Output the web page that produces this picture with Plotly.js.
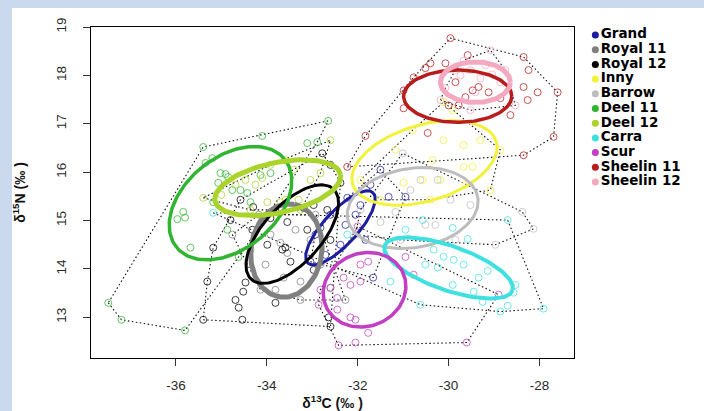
<!DOCTYPE html>
<html><head><meta charset="utf-8">
<script src="https://cdn.plot.ly/plotly-3.0.1.min.js"></script>
<style>html,body{margin:0;padding:0;background:#cad9ee;} #chart{width:704px;height:411px;}</style>
</head><body><div id="chart"></div>
<script>
// ---- data ----
const groups = ["Grand","Royal 11","Royal 12","Inny","Barrow","Deel 11","Deel 12","Carra","Scur","Sheelin 11","Sheelin 12"];

const grandX = [-32.93,-32.60,-32.27,-31.94,-32.38,-32.23,-30.95,-31.50,-31.32,-32.71,-32.05,-31.72,-33.04,-31.83,-31.66,-32.82];
const grandY = [14.71,15.12,14.91,15.32,14.50,15.47,15.49,16.05,15.49,14.29,15.12,15.74,14.15,14.60,13.82,14.85];

const royal11X = [-34.18,-33.92,-33.70,-33.55,-33.26,-33.63,-34.03,-33.37,-33.04,-34.14,-33.81,-33.26,-32.82,-34.36,-32.93,-32.60,-32.27,-34.76];
const royal11Y = [15.12,14.71,14.54,14.33,13.74,13.82,14.09,14.81,14.60,13.57,13.57,13.36,14.09,14.40,15.12,13.61,13.36,14.71];

const royal12X = [-35.18,-35.31,-34.47,-34.52,-34.69,-34.62,-35.40,-34.54,-33.81,-32.60,-32.64,-33.66,-33.48,-32.78,-32.60,-32.38,-34.58,-34.30,-34.80,-34.32,-33.92,-33.55,-33.19,-32.97,-33.99,-33.59,-33.11,-32.67,-32.60,-32.97];
const royal12Y = [14.44,13.74,13.72,13.53,13.36,13.20,12.95,12.95,13.30,12.81,13.00,14.40,14.15,16.39,16.15,15.78,15.43,15.28,15.01,14.81,15.05,14.97,15.26,15.32,14.50,14.44,14.81,15.22,14.60,13.98];

const innyX = [-30.11,-29.91,-29.67,-30.11,-30.57,-30.18,-30.40,-29.67,-29.47,-30.99,-31.50,-31.94,-31.17,-29.30,-28.86,-30.79,-29.63,-29.08,-30.35];
const innyY = [17.45,17.28,16.56,16.66,15.84,15.84,15.43,16.11,16.11,15.78,15.43,15.84,16.46,16.66,16.46,16.87,15.74,15.63,16.25];

const barrowX = [-31.01,-30.62,-30.24,-31.94,-31.50,-30.51,-30.29,-31.06,-29.96,-29.52,-31.17,-30.84,-29.85,-28.97,-28.38,-28.13,-32.05];
const barrowY = [16.39,15.84,15.84,15.22,14.97,14.91,14.91,14.60,15.43,15.32,15.18,15.63,14.60,14.50,15.18,14.83,14.71];

const deel11X = [-37.49,-37.20,-35.80,-35.40,-34.10,-32.65,-35.20,-35.35,-35.02,-34.91,-34.85,-35.07,-35.18,-35.84,-35.97,-35.80,-34.76,-34.58,-34.43,-34.36,-34.62,-35.68,-34.87,-33.11,-32.89,-33.92,-34.14];
const deel11Y = [13.30,12.95,12.73,16.52,16.75,17.06,16.29,16.19,15.98,15.96,15.90,15.78,15.38,15.18,15.03,15.06,15.63,15.63,15.57,15.38,14.25,14.44,14.81,16.60,16.62,15.98,15.94];

const deel12X = [-32.82,-33.59,-33.70,-33.30,-33.99,-35.40,-34.69,-34.47,-34.25,-34.10,-33.92,-33.41,-33.04,-35.00,-34.36,-33.26,-33.59,-32.60];
const deel12Y = [15.98,15.43,15.38,15.43,15.38,15.47,15.74,15.84,15.74,15.88,16.15,16.05,15.84,15.53,15.22,15.22,16.25,16.66];

const carraX = [-30.95,-29.91,-29.58,-28.70,-30.33,-30.11,-29.89,-29.67,-30.51,-30.24,-29.34,-29.14,-29.91,-29.45,-28.53,-28.57,-30.62,-28.86,-28.70,-27.91,-29.25,-32.23,-31.28,-30.57,-35.18];
const carraY = [14.81,14.85,14.62,15.01,14.40,14.25,14.19,14.09,14.09,14.03,13.82,13.96,13.67,13.53,13.67,13.51,13.26,13.12,13.24,13.18,13.32,14.71,13.74,15.01,15.16];

const scurX = [-31.94,-31.77,-31.94,-32.16,-32.31,-32.45,-32.60,-32.45,-32.16,-32.05,-31.77,-32.42,-32.05,-29.60,-32.86,-32.82,-30.95,-30.77,-28.90,-32.00];
const scurY = [14.09,14.15,13.74,13.67,13.82,13.40,13.61,13.16,13.00,12.95,12.68,12.42,12.48,12.48,13.26,13.57,14.25,13.88,13.47,14.88];

const sheelin11X = [-29.96,-29.58,-28.35,-28.24,-27.60,-28.04,-28.35,-28.26,-27.69,-28.35,-30.51,-30.40,-30.07,-30.99,-30.77,-29.85,-29.47,-29.34,-29.12,-29.63,-29.78,-30.00,-28.86,-28.64,-30.99,-30.46,-31.83,-32.23];
const sheelin11Y = [18.77,18.42,18.38,18.11,17.65,17.65,17.76,17.49,16.73,16.35,18.15,18.25,18.25,17.69,17.96,17.86,17.69,17.76,17.65,17.55,17.38,17.38,17.53,17.18,17.32,16.81,16.75,16.11];

const sheelin12X = [-29.74,-29.52,-29.30,-29.04,-29.41,-28.86,-29.19,-29.67,-30.07,-29.85,-28.75,-29.08,-28.53,-30.18,-29.52];
const sheelin12Y = [18.00,18.11,17.94,18.02,17.65,17.86,18.21,18.31,17.74,18.11,18.11,18.52,17.38,17.49,17.28];

// standard ellipse parameters (centre, semi-axes, rotation in degrees)
const ellCX = [-32.38,-33.57,-33.44,-30.53,-30.79,-34.80,-33.76,-30.00,-31.85,-29.80,-29.41];
const ellCY = [14.85,14.38,14.72,16.19,15.26,15.36,15.68,14.02,13.57,17.57,17.86];
const ellA  = [1.02,0.97,1.30,1.64,1.45,1.50,1.41,1.48,0.92,1.19,0.77];
const ellB  = [0.36,0.78,0.62,0.79,0.82,0.97,0.52,0.46,0.76,0.54,0.42];
const ellDeg = [45,80,45,15,8,35,11,-18,15,0,0];

const xTickVals = [-36,-34,-32,-30,-28];
const xTickText = ["-36","-34","-32","-30","-28"];
const yTickVals = [13,14,15,16,17,18,19];
const yTickText = ["13","14","15","16","17","18","19"];

// ---- styles ----
const colors = ["#1c1c9e","#808080","#000000","#f2f23a","#bdbdbd","#2fb52f","#aad42c","#40e0e0","#c23ec2","#b81c1c","#f5a9c0"];
const ellWidth = [3,5,3,3,3,3.5,5,4,3.5,3.5,5];
const ptsX = [grandX,royal11X,royal12X,innyX,barrowX,deel11X,deel12X,carraX,scurX,sheelin11X,sheelin12X];
const ptsY = [grandY,royal11Y,royal12Y,innyY,barrowY,deel11Y,deel12Y,carraY,scurY,sheelin11Y,sheelin12Y];

function hull(xs, ys){
  const pts = xs.map((x,i)=>[x,ys[i]]).sort((a,b)=>a[0]-b[0]||a[1]-b[1]);
  const cr=(o,a,b)=>(a[0]-o[0])*(b[1]-o[1])-(a[1]-o[1])*(b[0]-o[0]);
  const lo=[];for(const p of pts){while(lo.length>=2&&cr(lo[lo.length-2],lo[lo.length-1],p)<=0)lo.pop();lo.push(p);}
  const up=[];for(let i=pts.length-1;i>=0;i--){const p=pts[i];while(up.length>=2&&cr(up[up.length-2],up[up.length-1],p)<=0)up.pop();up.push(p);}
  lo.pop();up.pop();const h=lo.concat(up);h.push(h[0]);return h;
}
function ellipse(cx,cy,a,b,deg){
  const th=deg*Math.PI/180, xs=[], ys=[];
  for(let k=0;k<=144;k++){const t=2*Math.PI*k/144;
    xs.push(cx+a*Math.cos(t)*Math.cos(th)-b*Math.sin(t)*Math.sin(th));
    ys.push(cy+a*Math.cos(t)*Math.sin(th)+b*Math.sin(t)*Math.cos(th));}
  return [xs,ys];
}

const traces=[];
groups.forEach((g,i)=>{
  const h=hull(ptsX[i],ptsY[i]);
  traces.push({x:h.map(p=>p[0]),y:h.map(p=>p[1]),mode:'lines',line:{color:'#111',width:1.1,dash:'1.5px,2.5px'},showlegend:false,hoverinfo:'skip'});
});
groups.forEach((g,i)=>{
  traces.push({x:ptsX[i],y:ptsY[i],mode:'markers',name:g,showlegend:false,
    marker:{symbol:'circle-open',size:7,color:colors[i],opacity:0.75,line:{width:1}}});
});
groups.forEach((g,i)=>{
  const e=ellipse(ellCX[i],ellCY[i],ellA[i],ellB[i],ellDeg[i]);
  traces.push({x:e[0],y:e[1],mode:'lines',line:{color:colors[i],width:ellWidth[i]},showlegend:false,hoverinfo:'skip'});
});
// legend drawn as a trace on its own axes
traces.push({x:groups.map(()=>14),y:groups.map((g,i)=>i),xaxis:'x2',yaxis:'y2',mode:'markers+text',
  text:groups.map(g=>'<b>'+g+'</b>'),textposition:'middle right',
  textfont:{family:'DejaVu Sans',size:13.5,color:'#000'},
  marker:{color:colors,size:7},showlegend:false,hoverinfo:'skip',cliponaxis:false});

const font={family:'Liberation Sans, Arial, sans-serif'};
const layout={
  width:704,height:411,margin:{l:91,r:0,t:27,b:53},
  paper_bgcolor:'#cad9ee',plot_bgcolor:'#ffffff',showlegend:false,
  shapes:[{type:'rect',xref:'paper',yref:'paper',x0:-0.1289,x1:1.0,y0:-0.17,y1:1.0574,fillcolor:'#ffffff',line:{width:0},layer:'below'}],
  xaxis:{domain:[0,483/613],range:[-37.87,-27.24],tickmode:'array',tickvals:xTickVals,ticktext:xTickText,
    ticks:'outside',ticklen:7,tickcolor:'#333',showline:true,linecolor:'#000',linewidth:1,mirror:true,
    showgrid:false,zeroline:false,ticklabelstandoff:8,tickfont:{family:font.family,size:13.5,color:'#2a2a2a'},
    title:{text:'<b>δ<sup>13</sup>C (‰ )</b>',font:{family:font.family,size:14,color:'#111'},standoff:6}},
  yaxis:{domain:[0,1],range:[12.16,19],tickmode:'array',tickvals:yTickVals,ticktext:yTickText,tickangle:-90,
    ticks:'outside',ticklen:7,tickcolor:'#333',showline:true,linecolor:'#000',linewidth:1,mirror:true,
    showgrid:false,zeroline:false,ticklabelstandoff:12,tickfont:{family:font.family,size:13.5,color:'#2a2a2a'},
    title:{text:'<b>δ<sup>15</sup>N (‰ )</b>',font:{family:font.family,size:14,color:'#111'},standoff:24}},
  xaxis2:{domain:[0.80,1],range:[0,123],visible:false,fixedrange:true,anchor:'y2'},
  yaxis2:{domain:[0,1],range:[21.97,-0.544],visible:false,fixedrange:true,anchor:'x2'}
};
Plotly.newPlot('chart',traces,layout,{staticPlot:true,displayModeBar:false});
</script></body></html>
